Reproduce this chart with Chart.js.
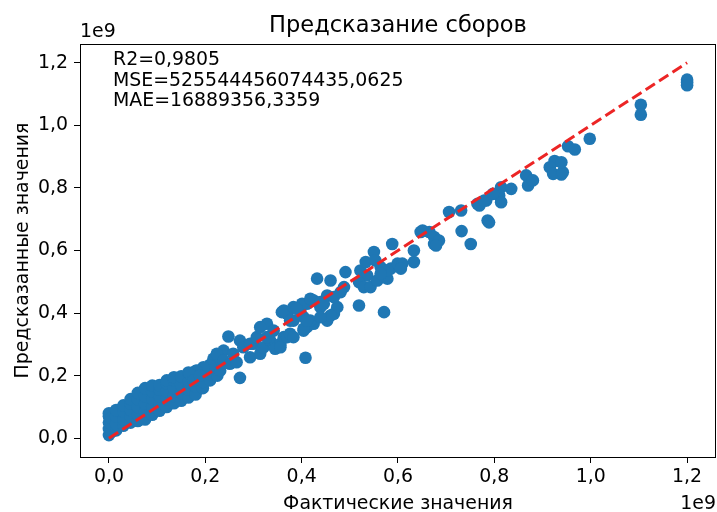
<!DOCTYPE html>
<html>
<head>
<meta charset="utf-8">
<script src="https://cdn.jsdelivr.net/npm/chart.js@4.4.0/dist/chart.umd.min.js"></script>
<style>
    html, body { margin: 0; padding: 0; background: #fff; }
</style>
</head>
<body>
<canvas id="predictionChart" width="717" height="512"></canvas>
<script>
const TITLE = 'Предсказание сборов';
const X_LABEL = 'Фактические значения';
const Y_LABEL = 'Предсказанные значения';
const OFFSET_TEXT = '1e9';
const METRICS = ['R2=0,9805', 'MSE=525544456074435,0625', 'MAE=16889356,3359'];

const X_TICKS = [0, 0.2, 0.4, 0.6, 0.8, 1.0, 1.2];
const Y_TICKS = [0, 0.2, 0.4, 0.6, 0.8, 1.0, 1.2];

// ideal line y = x, ends in units of 1e9
const IDEAL_LINE = [0, 1.2];

// actual / predicted values, in units of 1e9
const ACTUAL = [
    0, 0, 0, 0, 0, 0.005, 0.005, 0.005,
    0.015, 0.015, 0.015, 0.015, 0.03, 0.03, 0.03, 0.03,
    0.045, 0.045, 0.045, 0.045, 0.045, 0.06, 0.06, 0.06, 0.06, 0.06,
    0.075, 0.075, 0.075, 0.075, 0.075, 0.09, 0.09, 0.09, 0.09, 0.09,
    0.105, 0.105, 0.105, 0.105, 0.105, 0.12, 0.12, 0.12, 0.12, 0.12,
    0.135, 0.135, 0.135, 0.135, 0.135, 0.15, 0.15, 0.15, 0.15,
    0.165, 0.165, 0.165, 0.165, 0.18, 0.18, 0.18, 0.18,
    0.195, 0.195, 0.195, 0.195, 0.21, 0.21, 0.21, 0.225, 0.225, 0.225,
    0.238, 0.217, 0.224, 0.238, 0.251, 0.265, 0.231, 0.21, 0.196, 0.182,
    0.168, 0.175, 0.189, 0.272, 0.248, 0.272, 0.279, 0.258, 0.293, 0.314,
    0.300, 0.293, 0.307, 0.321, 0.335, 0.345, 0.356, 0.363, 0.328, 0.314,
    0.342, 0.328, 0.356, 0.370, 0.376, 0.411, 0.404, 0.397, 0.411, 0.439,
    0.425, 0.453, 0.370, 0.359, 0.383, 0.363, 0.383, 0.401, 0.418, 0.439,
    0.467, 0.453, 0.425, 0.404, 0.408, 0.418, 0.404, 0.390, 0.376, 0.383,
    0.411, 0.446, 0.474, 0.460, 0.439, 0.432, 0.460, 0.488, 0.467, 0.481,
    0.491, 0.522, 0.536, 0.519, 0.529, 0.543, 0.557, 0.571, 0.578, 0.519,
    0.571, 0.588, 0.550, 0.533, 0.553, 0.564, 0.585, 0.599, 0.609, 0.633,
    0.633, 0.578, 0.564, 0.606, 0.647, 0.665, 0.675, 0.675, 0.685, 0.651,
    0.679, 0.706, 0.731, 0.732, 0.751, 0.786, 0.789, 0.765, 0.783, 0.769,
    0.779, 0.814, 0.810, 0.814, 0.797, 0.835, 0.866, 0.870, 0.880, 0.925,
    0.915, 0.922, 0.939, 0.942, 0.939, 0.953, 0.967, 0.998, 1.104, 1.104,
    1.2, 1.2, 1.2
];
const PREDICTED = [
    0.01, 0.03, 0.05, 0.07, 0.08, 0.02, 0.045, 0.065,
    0.025, 0.045, 0.07, 0.09, 0.04, 0.06, 0.085, 0.105,
    0.05, 0.07, 0.09, 0.11, 0.125, 0.055, 0.075, 0.1, 0.125, 0.145,
    0.06, 0.085, 0.11, 0.135, 0.16, 0.075, 0.1, 0.125, 0.15, 0.168,
    0.088, 0.11, 0.135, 0.155, 0.17, 0.1, 0.125, 0.15, 0.175, 0.185,
    0.112, 0.135, 0.16, 0.185, 0.195, 0.12, 0.145, 0.17, 0.198,
    0.13, 0.155, 0.18, 0.21, 0.14, 0.165, 0.19, 0.215,
    0.16, 0.18, 0.205, 0.222, 0.185, 0.205, 0.235, 0.2, 0.225, 0.25,
    0.280, 0.254, 0.270, 0.248, 0.238, 0.243, 0.216, 0.232, 0.227, 0.216,
    0.206, 0.184, 0.200, 0.193, 0.325, 0.312, 0.291, 0.270, 0.259, 0.270,
    0.302, 0.302, 0.323, 0.291, 0.312, 0.286, 0.302, 0.323, 0.366, 0.355,
    0.344, 0.323, 0.291, 0.323, 0.334, 0.355, 0.387, 0.408, 0.430, 0.419,
    0.440, 0.456, 0.398, 0.403, 0.376, 0.408, 0.419, 0.430, 0.446, 0.435,
    0.398, 0.376, 0.366, 0.344, 0.257, 0.376, 0.350, 0.414, 0.376, 0.323,
    0.376, 0.430, 0.419, 0.392, 0.387, 0.510, 0.504, 0.483, 0.451, 0.467,
    0.531, 0.536, 0.520, 0.499, 0.483, 0.483, 0.504, 0.515, 0.510, 0.424,
    0.403, 0.621, 0.595, 0.563, 0.568, 0.547, 0.542, 0.558, 0.558, 0.563,
    0.600, 0.536, 0.526, 0.542, 0.659, 0.659, 0.643, 0.621, 0.632, 0.664,
    0.616, 0.723, 0.728, 0.662, 0.621, 0.696, 0.690, 0.749, 0.760, 0.744,
    0.760, 0.802, 0.776, 0.754, 0.781, 0.797, 0.840, 0.808, 0.824, 0.886,
    0.866, 0.845, 0.843, 0.850, 0.882, 0.933, 0.923, 0.957, 1.066, 1.034,
    1.146, 1.138, 1.128
];

const FONT = 'DejaVu Sans';
const FONT_SIZE = 18.9;

function formatTick(value) {
    return value.toFixed(1).replace('.', ',');
}

// titles, offset text, metrics and the axes frame, like matplotlib draws them
const textPlugin = {
    id: 'textPlugin',
    afterDraw(chart) {
        const ctx = chart.ctx;
        const area = chart.chartArea;
        const midX = (area.left + area.right) / 2;
        const midY = (area.top + area.bottom) / 2;
        ctx.save();

        ctx.strokeStyle = '#000';
        ctx.lineWidth = 1;
        ctx.strokeRect(area.left + 0.5, area.top + 0.5, area.right - area.left - 1, area.bottom - area.top);

        ctx.fillStyle = '#000';
        ctx.textBaseline = 'alphabetic';

        ctx.font = '22.5px "' + FONT + '"';
        ctx.textAlign = 'center';
        ctx.fillText(TITLE, midX, 32);

        ctx.font = FONT_SIZE + 'px "' + FONT + '"';
        ctx.fillText(X_LABEL, midX, 509);

        ctx.textAlign = 'left';
        ctx.fillText(OFFSET_TEXT, area.left, 37);
        ctx.textAlign = 'right';
        ctx.fillText(OFFSET_TEXT, area.right, 509);

        ctx.textAlign = 'left';
        METRICS.forEach((line, i) => {
            ctx.fillText(line, 113, 65 + i * 20.5);
        });

        ctx.translate(28, midY);
        ctx.rotate(-Math.PI / 2);
        ctx.textAlign = 'center';
        ctx.fillText(Y_LABEL, 0, 0);

        ctx.restore();
    }
};

function axisOptions(ticks, fitSize, isX) {
    return {
        type: 'linear',
        min: -0.06,
        max: 1.26,
        afterBuildTicks: scale => {
            scale.ticks = ticks.map(v => ({ value: v }));
        },
        afterFit: scale => {
            if (isX) {
                scale.height = fitSize;
                scale.paddingLeft = 0;
                scale.paddingRight = 0;
            } else {
                scale.width = fitSize;
                scale.paddingTop = 0;
                scale.paddingBottom = 0;
            }
        },
        grid: {
            display: true,
            drawOnChartArea: false,
            drawTicks: true,
            tickLength: 6,
            tickColor: '#000',
            tickWidth: 1
        },
        border: { display: false },
        ticks: {
            color: '#000',
            padding: isX ? 3 : 6,
            autoSkip: false,
            maxRotation: 0,
            font: { family: FONT, size: FONT_SIZE },
            callback: value => formatTick(value)
        }
    };
}

function plotPredictionChart() {
    const points = ACTUAL.map((x, i) => ({ x: x, y: PREDICTED[i] }));
    const ideal = IDEAL_LINE.map(v => ({ x: v, y: v }));

    const data = {
        datasets: [{
            type: 'line',
            label: 'ideal',
            data: ideal,
            borderColor: '#ec2525',
            borderWidth: 3,
            borderDash: [11, 5],
            pointRadius: 0,
            fill: false,
            order: 0
        },
        {
            type: 'scatter',
            label: 'predictions',
            data: points,
            backgroundColor: '#1f77b4',
            borderWidth: 0,
            pointRadius: 6.3,
            pointHoverRadius: 6.3,
            order: 1
        }]
    };

    const config = {
        type: 'scatter',
        data: data,
        options: {
            responsive: false,
            animation: false,
            layout: {
                autoPadding: false,
                padding: { top: 44, right: 1, left: 0, bottom: 0 }
            },
            plugins: {
                legend: { display: false },
                tooltip: { enabled: false },
                title: { display: false }
            },
            scales: {
                x: axisOptions(X_TICKS, 55, true),
                y: axisOptions(Y_TICKS, 80, false)
            }
        },
        plugins: [textPlugin]
    };

    const predictionChart = new Chart(
        document.getElementById('predictionChart'),
        config
    );
}

plotPredictionChart();
</script>
</body>
</html>
